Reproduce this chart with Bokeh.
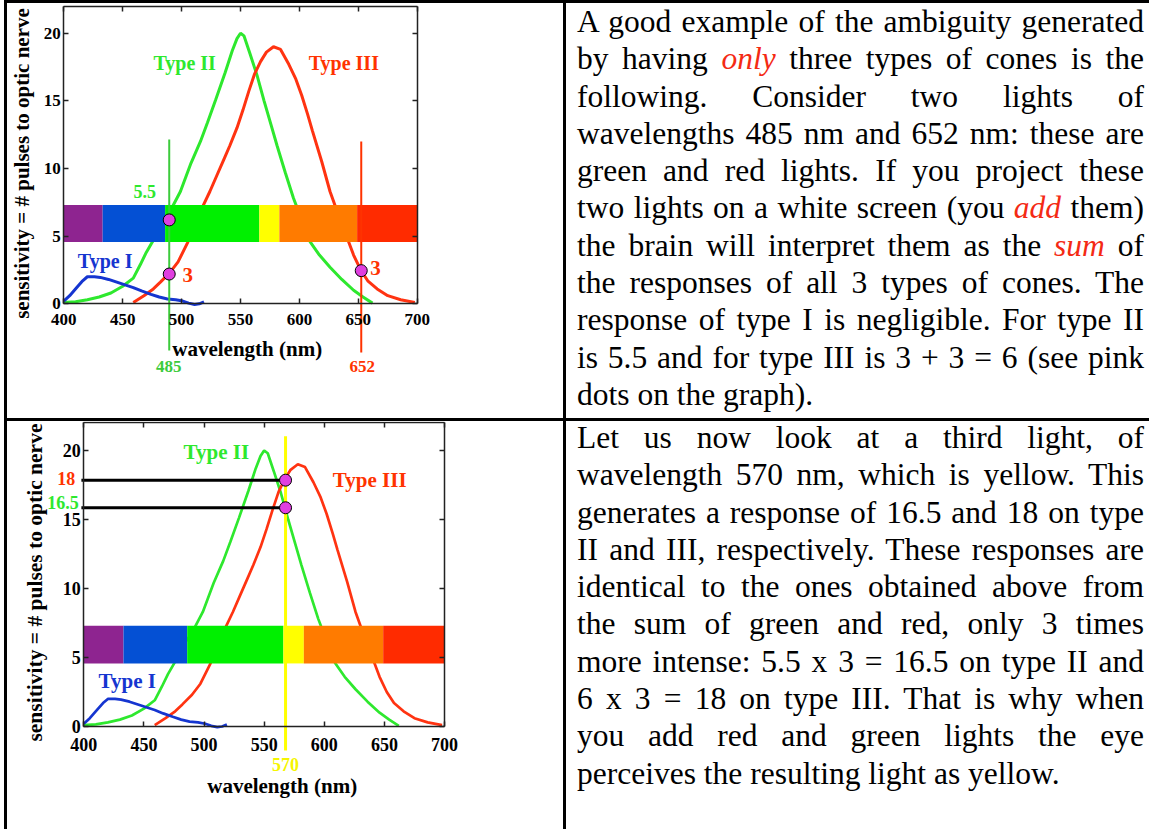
import math
from bokeh.plotting import figure
from bokeh.models import (ColumnDataSource, FixedTicker, LinearAxis, Div, Range1d,
                          CustomJSTickFormatter)
from bokeh.layouts import row, column
from bokeh.embed import file_html
from bokeh.resources import INLINE
from bokeh.core.properties import value

# ---------------- data ----------------
x_ticks = [400, 450, 500, 550, 600, 650, 700]
y_ticks = [0, 5, 10, 15, 20]
x_bounds = (400, 700)
y_bounds = (0, 22)

type1_nm = [400, 405, 411, 416, 420, 426, 431, 438, 445, 452, 459, 466, 474, 481, 488, 495, 501, 506, 511, 515, 519]
type1_resp = [0.2, 0.6, 1.2, 1.7, 2.0, 2.0, 1.95, 1.8, 1.6, 1.4, 1.2, 0.95, 0.7, 0.5, 0.35, 0.3, 0.2, 0.05, -0.05, 0.0, 0.15]

type2_nm = [400, 410, 420, 430, 440, 450, 459, 465, 470, 476, 482, 490, 499, 508, 516, 522, 529, 537, 543, 547,
            550, 553, 558, 564, 570, 576, 581, 588, 595, 602, 609, 617, 626, 636, 646, 654, 662]
type2_resp = [0.1, 0.15, 0.3, 0.5, 0.8, 1.3, 1.9, 2.9, 3.8, 4.7, 5.8, 6.8, 8.3, 10.4, 12.0, 13.4, 15.1, 17.1, 18.7, 19.6,
              20.0, 19.8, 18.5, 16.9, 15.0, 13.2, 11.7, 9.7, 7.8, 6.2, 4.6, 3.6, 2.7, 1.8, 1.0, 0.5, 0.05]

type3_nm = [459, 468, 476, 482, 490, 497, 505, 511, 518, 524, 530, 536, 541, 547, 552, 557, 562, 567, 572, 578,
            584, 591, 597, 602, 607, 611, 619, 626, 633, 640, 646, 652, 658, 666, 675, 686, 698]
type3_resp = [0.1, 0.6, 1.1, 1.6, 2.3, 3.1, 4.5, 5.8, 7.2, 8.3, 9.5, 10.7, 11.7, 13.0, 14.3, 15.7, 17.0, 17.9, 18.6, 19.0,
              18.8, 17.7, 16.6, 15.4, 14.0, 12.8, 10.5, 8.3, 6.6, 5.0, 3.6, 2.5, 1.7, 1.1, 0.6, 0.3, 0.1]

band_start = [400, 433, 486, 566, 583, 649]
band_end = [433, 486, 566, 583, 649, 700]
band_colors = ["#8E2490", "#0450D4", "#00F000", "#FFFF00", "#FF7B00", "#FF2B00"]
band_low = 4.57
band_high = 7.3

GREEN = "#2EE82E"
RED = "#FF3300"
BLUE = "#1535D0"
PINK = "#E03FE0"

# chart 1: two lights
lights1_nm = [489.5, 652.5]
lights1_top = [12.15, 12.0]
lights1_bottom = [-3.46, -3.6]
lights1_colors = ["#3CCB3C", RED]
dots1_nm = [489.5, 489.5, 652.5]
dots1_resp = [6.2, 2.2, 2.45]
notes1_text = ["Type II", "Type III", "Type I", "5.5", "3", "3", "485", "652"]
notes1_nm = [502.6, 637.7, 435.1, 468.7, 505.2, 664.6, 489.1, 653.3]
notes1_resp = [17.37, 17.37, 2.75, 7.82, 1.67, 2.22, -5.06, -5.06]
notes1_color = [GREEN, RED, BLUE, GREEN, RED, RED, "#3CCB3C", RED]
notes1_size = ["20px", "20px", "20px", "18px", "21px", "21px", "17px", "17px"]
xlabel1_pos = (555.7, -3.82)
ylabel1_pos = (370.0, 10.37)

# chart 2: one yellow light
light2_nm = [567.8]
light2_top = [21.04]
light2_bottom = [-1.74]
dots2_nm = [567.8, 567.8]
dots2_resp = [17.85, 15.85]
hline2_start = [398.0, 398.0]
notes2_text = ["Type II", "Type III", "Type I", "18", "16.5", "570"]
notes2_nm = [510.2, 637.8, 436.1, 385.4, 382.7, 567.8]
notes2_resp = [19.44, 17.41, 2.85, 17.51, 15.8, -3.19]
notes2_color = [GREEN, RED, BLUE, RED, GREEN, "#F5F500"]
notes2_size = ["21px", "21px", "21px", "18px", "18px", "18px"]
xlabel2_pos = (565.0, -4.76)
ylabel2_pos = (364.6, 10.43)

text1_lines = [
    "A good example of the ambiguity generated",
    "by having <i style='color:#F42A14'>only</i> three types of cones is the",
    "following. Consider two lights of",
    "wavelengths 485 nm and 652 nm: these are",
    "green and red lights. If you project these",
    "two lights on a white screen (you <i style='color:#F42A14'>add</i> them)",
    "the brain will interpret them as the <i style='color:#F42A14'>sum</i> of",
    "the responses of all 3 types of cones. The",
    "response of type I is negligible. For type II",
    "is 5.5 and for type III is 3 + 3 = 6 (see pink",
    "dots on the graph).",
]
text2_lines = [
    "Let us now look at a third light, of",
    "wavelength 570 nm, which is yellow. This",
    "generates a response of 16.5 and 18 on type",
    "II and III, respectively. These responses are",
    "identical to the ones obtained above from",
    "the sum of green and red, only 3 times",
    "more intense: 5.5 x 3 = 16.5 on type II and",
    "6 x 3 = 18 on type III. That is why when",
    "you add red and green lights the eye",
    "perceives the resulting light as yellow.",
]

SERIF = "Liberation Serif"
Y_LABEL = "sensitivity = # pulses to optic nerve"
X_LABEL = "wavelength (nm)"
AXIS_COLOR = "#222222"
TEXT_SHIFT = -6  # px, compensates baseline placement of svg text


def make_chart(width, height, left_px, px_per_nm, zero_px, px_per_unit, tick_size, tick_standoff):
    x_start = x_bounds[0] - left_px / px_per_nm
    x_end = x_start + width / px_per_nm
    y_end = zero_px / px_per_unit
    y_start = y_end - height / px_per_unit
    p = figure(width=width, height=height, x_range=Range1d(x_start, x_end),
               y_range=Range1d(y_start, y_end), output_backend="svg", toolbar_location=None,
               x_axis_location=None, y_axis_location=None, min_border=0)
    p.min_border_left = p.min_border_right = p.min_border_top = p.min_border_bottom = 0
    p.margin = 0
    p.grid.visible = False
    p.outline_line_color = None
    p.background_fill_color = "white"
    p.border_fill_color = "white"

    specs = [
        ("below", x_ticks, y_bounds[0], x_bounds, True, tick_standoff),
        ("left", y_ticks, x_bounds[0], y_bounds, True, 3),
        ("above", x_ticks, y_bounds[1], x_bounds, False, 0),
        ("right", y_ticks, x_bounds[1], y_bounds, False, 0),
    ]
    for loc, ticks, fixed, bounds, labelled, standoff in specs:
        ax = LinearAxis(ticker=FixedTicker(ticks=ticks), fixed_location=fixed, bounds=bounds,
                        major_tick_in=5, major_tick_out=0, minor_tick_line_color=None,
                        axis_line_color=AXIS_COLOR, axis_line_width=1.5,
                        major_tick_line_color=AXIS_COLOR, major_tick_line_width=1.5,
                        major_label_standoff=standoff)
        if labelled:
            ax.major_label_text_font = SERIF
            ax.major_label_text_font_style = "bold"
            ax.major_label_text_font_size = tick_size
            ax.major_label_text_color = "black"
        else:
            ax.formatter = CustomJSTickFormatter(code="return ''")
            ax.major_label_text_font_size = "0px"
        p.add_layout(ax, loc)
    return p


def add_curves_and_band(p, lw):
    p.line(type2_nm, type2_resp, line_color=GREEN, line_width=lw)
    p.line(type3_nm, type3_resp, line_color="#FF3311", line_width=lw)
    p.line(type1_nm, type1_resp, line_color=BLUE, line_width=lw)
    band = ColumnDataSource(dict(left=band_start, right=band_end, color=band_colors,
                                 bottom=[band_low] * len(band_start), top=[band_high] * len(band_start)))
    p.quad(left="left", right="right", bottom="bottom", top="top", fill_color="color",
           line_color=None, source=band)


def add_notes(p, texts, xs, ys, colors, sizes):
    src = ColumnDataSource(dict(x=xs, y=ys, text=texts, color=colors, size=sizes))
    p.text(x="x", y="y", text="text", text_color="color", text_font_size="size", source=src,
           text_font=value(SERIF), text_font_style="bold", text_align="center",
           text_baseline="alphabetic", y_offset=TEXT_SHIFT)


def add_axis_titles(p, xpos, ypos, xsize, ysize):
    p.text(x=[xpos[0]], y=[xpos[1]], text=[X_LABEL], text_font=value(SERIF), text_font_style="bold",
           text_font_size=xsize, text_color="black", text_align="center", text_baseline="alphabetic",
           y_offset=TEXT_SHIFT)
    p.text(x=[ypos[0]], y=[ypos[1]], text=[Y_LABEL], angle=math.pi / 2, text_font=value(SERIF),
           text_font_style="bold", text_font_size=ysize, text_color="black",
           text_align="center", text_baseline="alphabetic", x_offset=TEXT_SHIFT)


# ---------------- chart 1 ----------------
p1 = make_chart(556, 415, 56.3, 1.178, 300.3, 13.53, "17px", 10)
add_curves_and_band(p1, 3)
p1.segment(x0=lights1_nm, y0=lights1_top, x1=lights1_nm, y1=lights1_bottom,
           line_color=lights1_colors, line_width=2)
p1.scatter(dots1_nm, dots1_resp, size=12, fill_color=PINK, line_color="black", line_width=1)
add_notes(p1, notes1_text, notes1_nm, notes1_resp, notes1_color, notes1_size)
add_axis_titles(p1, xlabel1_pos, ylabel1_pos, "21px", "21px")

# ---------------- chart 2 ----------------
p2 = make_chart(556, 408, 76.3, 1.2023, 305.0, 13.8, "18px", 11)
add_curves_and_band(p2, 2.7)
p2.segment(x0=hline2_start, y0=dots2_resp, x1=dots2_nm, y1=dots2_resp,
           line_color="black", line_width=3)
p2.segment(x0=light2_nm, y0=light2_top, x1=light2_nm, y1=light2_bottom,
           line_color="#FFFF00", line_width=3)
p2.scatter(dots2_nm, dots2_resp, size=12, fill_color=PINK, line_color="black", line_width=1)
add_notes(p2, notes2_text, notes2_nm, notes2_resp, notes2_color, notes2_size)
add_axis_titles(p2, xlabel2_pos, ylabel2_pos, "21px", "21.5px")


# ---------------- text cells ----------------
def text_cell(lines, width, height, shift):
    parts = []
    for i, ln in enumerate(lines):
        align = "left" if i == len(lines) - 1 else "justify"
        parts.append(f"<div style='text-align:{align};text-align-last:{align};'>{ln}</div>")
    html = (f"<div style=\"width:{width}px;box-sizing:border-box;margin-top:{shift}px;"
            "font-family:'Liberation Serif';font-size:31.5px;line-height:37.3px;"
            "color:black;padding:0 5px 0 11px;\">" + "".join(parts) + "</div>")
    return Div(text=html, width=width, height=height, margin=0)


def line_div(w, h):
    return Div(text="", width=w, height=h, margin=0, styles={"background-color": "black"})


LEFT_PAD, LW, W_LEFT, W_RIGHT = 4, 3, 556, 583
H1, H2 = 415, 408
TOTAL_W = LW + W_LEFT + LW + W_RIGHT

layout = row(
    Div(text="", width=LEFT_PAD, height=LW + H1 + LW + H2, margin=0),
    column(
        line_div(TOTAL_W, LW),
        row(line_div(LW, H1), p1, line_div(LW, H1), text_cell(text1_lines, W_RIGHT, H1, 0), spacing=0),
        line_div(TOTAL_W, LW),
        row(line_div(LW, H2), p2, line_div(LW, H2), text_cell(text2_lines, W_RIGHT, H2, -2), spacing=0),
        spacing=0,
    ),
    spacing=0,
)

open("out.html", "w").write(file_html(layout, INLINE))
